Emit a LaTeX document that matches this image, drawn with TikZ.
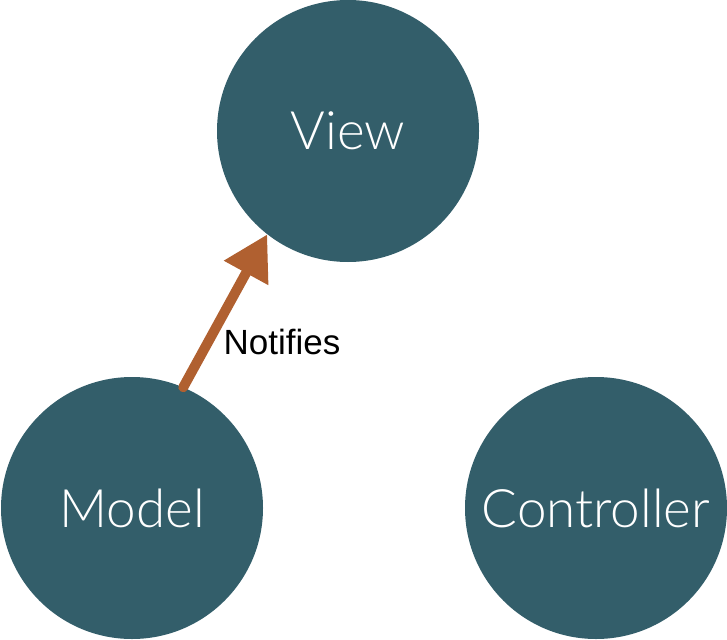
\documentclass[tikz,border=0pt]{standalone}
\usepackage{fontspec}
\setmainfont{Lato}[UprightFont={* Light}]
\newfontfamily\labelfont{Liberation Sans}
\usetikzlibrary{arrows.meta}
\definecolor{teal}{RGB}{51,94,106}
\definecolor{rust}{RGB}{176,96,48}
\begin{document}
\begin{tikzpicture}[x=1pt,y=-1pt,
  blob/.style={circle,fill=teal,minimum size=262pt,inner sep=0pt,text=white,font=\fontsize{53}{60}\selectfont},
  notify/.style={rust,line width=10pt,line cap=round,-{Triangle[length=44pt,width=48pt]}},
  lbl/.style={font=\labelfont\fontsize{35}{40}\selectfont,text=black}]
\useasboundingbox (0,0) rectangle (727,639);
\node[blob] (View) at (348,131) {View};
\node[blob] (Model) at (132,508) {Model};
\node[blob] (Controller) at (596,508) {Controller};
\draw[notify] (Model.67) -- (View.232);
\node[lbl] (notifies) at (282,342) {Notifies};
\end{tikzpicture}
\end{document}
